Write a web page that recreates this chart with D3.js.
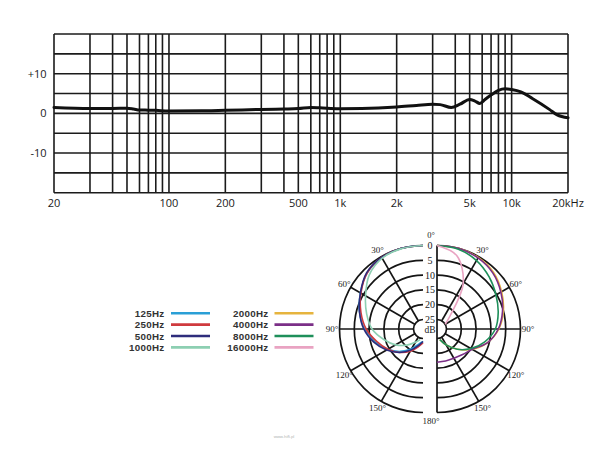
<!DOCTYPE html>
<html><head><meta charset="utf-8">
<script src="https://cdn.jsdelivr.net/npm/d3@7"></script>
<style>html,body{margin:0;padding:0;background:#fff;}svg{display:block;}</style>
</head><body>
<svg id="c" width="600" height="450"></svg>
<script>
// ---------- data ----------
const freqHz = [20, 30, 40, 50, 55, 60, 70, 80, 100, 150, 200, 300, 400, 500, 600, 700, 800, 1000, 1300, 2000, 2500, 3000, 3300, 3800, 4300, 5000, 5400, 5800, 6300, 7000, 8000, 9000, 10000, 11200, 12900, 15900, 17500, 20000];
const responseDb = [1.5, 1.25, 1.25, 1.3, 1.1, 0.85, 0.8, 0.75, 0.6, 0.65, 0.75, 1.0, 1.1, 1.2, 1.5, 1.4, 1.3, 1.15, 1.2, 1.6, 2.0, 2.3, 2.2, 1.5, 2.3, 3.5, 3.1, 2.5, 3.5, 4.6, 5.8, 6.2, 6.0, 5.4, 3.75, 1.0, -0.4, -1.1];
const xGridHz = [20,30,40,50,60,70,80,90,100,200,300,400,500,600,700,800,900,1000,2000,3000,4000,5000,6000,7000,8000,9000,10000,20000];
const xTickHz = [20, 100, 200, 500, 1000, 2000, 5000, 10000, 20000];
const xTickLabels = ["20", "100", "200", "500", "1k", "2k", "5k", "10k", "20kHz"];
const yGridDb = [-20, -15, -10, -5, 0, 5, 10, 15, 20];
const yTickDb = [10, 0, -10];
const yTickLabels = ["+10", "0", "-10"];

const polarAngles = [0, 15, 30, 45, 60, 75, 90, 105, 120, 135, 150, 165, 180];
const ringDb = [0, 5, 10, 15, 20, 25];
const spokeAngles = [30, 60, 90, 120, 150];
const angleLabels = ["0°", "30°", "60°", "90°", "120°", "150°", "180°"];
const angleLabelValues = [0, 30, 60, 90, 120, 150, 180];

const leftNames = ["125Hz", "250Hz", "500Hz", "1000Hz"];
const rightNames = ["2000Hz", "4000Hz", "8000Hz", "16000Hz"];
const leftColors = ["#2a9fd6", "#cf3a3e", "#2e2c7c", "#8dcfb2"];
const rightColors = ["#e6b43e", "#7b2f87", "#1e8f5a", "#e9a3c2"];
const s125 = [0, 0, 0.4, 1.5, 3.8, 6.0, 8.5, 11.5, 14.5, 17.5, 20.5, 23.0, 24.0];
const s250 = [0, 0, 0.3, 1.5, 4.0, 6.5, 9.0, 12.0, 14.5, 17.0, 19.5, 22.0, 23.5];
const s500 = [0, 0, 0.3, 1.3, 3.8, 6.0, 8.2, 11.0, 14.0, 17.0, 20.0, 22.5, 24.0];
const s1000 = [0, 0.1, 0.6, 2.5, 5.8, 8.5, 11.0, 14.5, 17.5, 20.5, 23.0, 24.5, null];
const s2000 = [0, 0, 0.3, 1.2, 3.0, 5.0, 7.3, 10.5, 14.5, 18.5, 22.0, 24.5, null];
const s4000 = [0, 0, 0.5, 1.5, 3.3, 5.3, 7.5, 10.5, 14.5, 16.0, 16.8, 17.0, 17.0];
const s8000 = [0, 0.3, 1.5, 3.3, 5.2, 6.8, 8.5, 11.5, 15.0, 18.5, 22.0, 24.5, null];
const s16000 = [0, 2.5, 10.5, 22.0, 25.0, null, null, null, null, null, null, null, null];
const leftSeries = [s125, s250, s500, s1000];
const rightSeries = [s2000, s4000, s8000, s16000];

// ---------- frequency response ----------
const svg = d3.select("#c");
const sans = "'Open Sans', 'Noto Sans', sans-serif";
const legFont = "'Liberation Sans', Arial, sans-serif";
const serif = "'Liberation Serif', 'DejaVu Serif', serif";

// stylised per-decade warp of the printed log grid
const decadeWarp = [0, 0.329, 0.539, 0.671, 0.755, 0.828, 0.880, 0.923, 0.962, 1];
function warpLog(f) {
  const e = Math.floor(Math.log10(f) + 1e-9);
  const d = f / Math.pow(10, e);
  const i = Math.min(Math.floor(d + 1e-9), 9);
  const t = (Math.log10(d) - Math.log10(i)) / (Math.log10(i + 1) - Math.log10(i));
  return e + decadeWarp[i - 1] + t * (decadeWarp[i] - decadeWarp[i - 1]);
}
const xw = d3.scaleLinear().domain([warpLog(20), warpLog(20000)]).range([54, 568]);
const x = f => xw(warpLog(f));
const y = d3.scaleLinear().domain([-20, 20]).range([192.7, 34]);

const fr = svg.append("g");
fr.selectAll("line.v").data(xGridHz).join("line")
  .attr("x1", d => x(d)).attr("x2", d => x(d))
  .attr("y1", y(-20)).attr("y2", y(20))
  .attr("stroke", "#1b1b1b").attr("stroke-width", 1.6);
fr.selectAll("line.h").data(yGridDb).join("line")
  .attr("x1", x(20)).attr("x2", x(20000))
  .attr("y1", d => y(d)).attr("y2", d => y(d))
  .attr("stroke", "#1b1b1b").attr("stroke-width", 1.6);

fr.selectAll("text.xt").data(xTickHz).join("text")
  .attr("x", d => x(d)).attr("y", 206.5)
  .attr("text-anchor", "middle").attr("font-family", sans).attr("font-size", 11)
  .attr("fill", "#1a1a1a").text((d, i) => xTickLabels[i]);
fr.selectAll("text.yt").data(yTickDb).join("text")
  .attr("x", 46.5).attr("y", d => y(d) + 4)
  .attr("text-anchor", "end").attr("font-family", sans).attr("font-size", 11)
  .attr("fill", "#1a1a1a").text((d, i) => yTickLabels[i]);

const respLine = d3.line().x((d, i) => x(freqHz[i])).y(d => y(d)).curve(d3.curveMonotoneX);
fr.append("path").datum(responseDb).attr("d", respLine)
  .attr("fill", "none").attr("stroke", "#111").attr("stroke-width", 3)
  .attr("stroke-linejoin", "round").attr("stroke-linecap", "round");

// ---------- legend ----------
const lg = svg.append("g");
const legRowY = d3.scaleLinear().domain([0, 3]).range([313.2, 347.4]);
[[leftNames, leftColors, 164.5, 171, 210], [rightNames, rightColors, 268.5, 274.5, 313.5]].forEach(([names, cols, tx, l1, l2]) => {
  names.forEach((n, i) => {
    lg.append("text").attr("x", tx).attr("y", legRowY(i) + 3.6)
      .attr("text-anchor", "end").attr("font-family", legFont).attr("font-size", 9.8)
      .attr("font-weight", "bold").attr("letter-spacing", 0.3).attr("fill", "#333").text(n);
    lg.append("line").attr("x1", l1).attr("x2", l2)
      .attr("y1", legRowY(i)).attr("y2", legRowY(i))
      .attr("stroke", cols[i]).attr("stroke-width", 2.6);
  });
});

// ---------- polar plot ----------
const pcx = 430, pcy = 329, halfGap = 7;
const r = d3.scaleLinear().domain([0, 25]).range([83.5, 9.5]);
const halves = [{cx: pcx - halfGap, sign: -1, series: leftSeries, colors: leftColors},
                {cx: pcx + halfGap, sign: 1, series: rightSeries, colors: rightColors}];
const rad = a => a * Math.PI / 180;

halves.forEach(h => {
  const g = svg.append("g").attr("transform", `translate(${h.cx},${pcy})`);
  const arc = d3.arc().innerRadius(d => r(d)).outerRadius(d => r(d))
    .startAngle(0).endAngle(h.sign * Math.PI);
  g.selectAll("path.ring").data(ringDb).join("path")
    .attr("d", d => arc(d)).attr("fill", "none")
    .attr("stroke", "#151515").attr("stroke-width", 1.7);
  g.selectAll("line.spoke").data(spokeAngles).join("line")
    .attr("x1", d => h.sign * r(25) * Math.sin(rad(d))).attr("y1", d => -r(25) * Math.cos(rad(d)))
    .attr("x2", d => h.sign * r(0) * Math.sin(rad(d))).attr("y2", d => -r(0) * Math.cos(rad(d)))
    .attr("stroke", "#151515").attr("stroke-width", 1.7);
  if (h.sign > 0) {
    g.append("line").attr("x1", 0).attr("x2", 0).attr("y1", -r(0)).attr("y2", r(0))
      .attr("stroke", "#151515").attr("stroke-width", 1.7);
  }
  const lr = d3.lineRadial()
    .defined(d => d != null)
    .angle((d, i) => h.sign * rad(polarAngles[i]))
    .radius(d => r(d))
    .curve(d3.curveCatmullRom.alpha(0.5));
  h.series.forEach((s, i) => {
    g.append("path").datum(s).attr("d", lr).attr("fill", "none")
      .attr("stroke", h.colors[i]).attr("stroke-width", 1.6);
  });
  g.selectAll("text.al").data(angleLabelValues.filter(a => a > 0 && a < 180)).join("text")
    .attr("x", d => h.sign * 91 * Math.sin(rad(d)))
    .attr("y", d => -91 * Math.cos(rad(d)) + 3)
    .attr("text-anchor", "middle").attr("font-family", serif).attr("font-size", 9)
    .attr("fill", "#222").text(d => angleLabels[angleLabelValues.indexOf(d)]);
});

const pg = svg.append("g");
pg.selectAll("text.db").data(ringDb).join("text")
  .attr("x", pcx).attr("y", d => pcy - r(d) + 3.5)
  .attr("text-anchor", "middle").attr("font-family", serif).attr("font-size", 10)
  .attr("fill", "#1a1a1a").text(d => d);
pg.append("text").attr("x", pcx).attr("y", pcy + 4).attr("text-anchor", "middle")
  .attr("font-family", serif).attr("font-size", 9.5).attr("fill", "#1a1a1a").text("dB");
pg.append("text").attr("x", pcx + 1).attr("y", pcy - 91.5).attr("text-anchor", "middle")
  .attr("font-family", serif).attr("font-size", 8.5).attr("fill", "#222").text(angleLabels[0]);
pg.append("text").attr("x", pcx + 1).attr("y", pcy + 95).attr("text-anchor", "middle")
  .attr("font-family", serif).attr("font-size", 9).attr("fill", "#222").text(angleLabels[6]);

svg.append("text").attr("x", 284).attr("y", 438).attr("text-anchor", "middle")
  .attr("font-family", sans).attr("font-size", 4).attr("fill", "#aaa").text("www.hifi.pl");
</script>
</body></html>
